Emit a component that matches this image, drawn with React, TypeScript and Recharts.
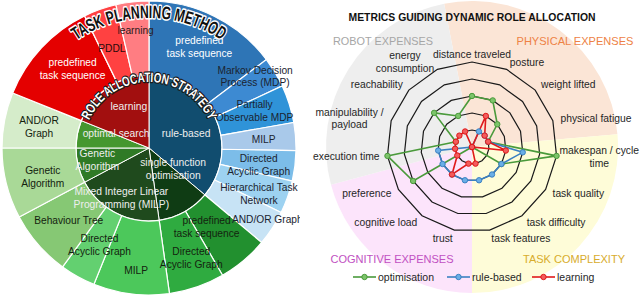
import React from 'react'
import {
  PieChart,
  Pie,
  Cell,
  RadarChart,
  Radar,
  PolarGrid,
  PolarAngleAxis,
  PolarRadiusAxis,
} from 'recharts'

const RAD = Math.PI / 180
const FONT = '"Liberation Sans", Arial, sans-serif'

// ---- left: role allocation strategy (inner ring) / task planning method (outer ring)
const strategies = [
  'rule-based',
  'single function\noptimisation',
  'Mixed Integer Linear\nProgramming (MILP)',
  'Genetic\nAlgorithm',
  'optimal search',
  'learning',
]

const methods = [
  'predefined\ntask sequence',
  'Markov Decision\nProcess (MDP)',
  'Partially\nObservable MDP',
  'MILP',
  'Directed\nAcyclic Graph',
  'Hierarchical Task\nNetwork',
  'AND/OR Graph',
  'predefined\ntask sequence',
  'Directed\nAcyclic Graph',
  'MILP',
  'Directed\nAcyclic Graph',
  'Behaviour Tree',
  'Genetic\nAlgorithm',
  'AND/OR\nGraph',
  'predefined\ntask sequence',
  'PDDL',
  'learning',
]
// angular share of each method (degrees of the circle)
const methodShare = [53, 12, 15, 11, 12, 13, 14, 20, 22, 30, 14, 26, 28, 22, 42, 13, 13]
// which strategy each method belongs to
const methodStrategy = [0, 0, 0, 0, 0, 0, 0, 1, 1, 2, 2, 2, 3, 4, 5, 5, 5]

const strategyColors = ['#114d6f', '#0f3c14', '#1f4a1d', '#2f7a26', '#45972f', '#a20f0f']
const methodColors = [
  '#2e75b6', '#3d8ad2', '#2f93d8', '#a9c9ea', '#7cbde9', '#9dd2f1', '#c7e3f5',
  '#22902f', '#2fab40',
  '#4cc85b', '#63d070', '#86c874',
  '#a9d997',
  '#d5ecca',
  '#e40000', '#ff4141', '#ff7d82',
]
const methodInk = [
  '#ffffff', '#1b2430', '#1b2430', '#1b2430', '#1b2430', '#1b2430', '#1b2430',
  '#14230f', '#14230f', '#14230f', '#14230f', '#14230f', '#14230f', '#14230f',
  '#ffffff', '#2a0a0a', '#2a1a1a',
]
// label placement inside the rings: radius and a small clockwise nudge (deg)
const methodLabelR = [113, 128, 112, 115, 111, 119, 138, 98, 118, 123, 109, 108, 110, 112, 110, 106, 118]
const methodLabelNudge = [0, -3, -2, 0, 2, 3, -2, 4, -2, -1, -2, -1, -1, 0, 3, -1, 0]
const strategyLabelR = [40, 32, 57, 53, 36, 46]
const strategyLabelNudge = [3, -20, 2, 1, 13, 8]

// ---- right: metrics guiding dynamic role allocation
const metrics = [
  'distance traveled',
  'posture',
  'weight lifted',
  'physical fatigue',
  'makespan / cycle\ntime',
  'task quality',
  'task difficulty',
  'task features',
  'trust',
  'cognitive load',
  'preference',
  'execution time',
  'manipulability /\npayload',
  'reachability',
  'energy\nconsumption',
]
const optimisation = [3, 3, 2, 1, 5, 2, 0, 0, 0, 0, 4, 5, 1, 3, 2]
const ruleBased = [0, 1, 1, 1, 3, 2, 2, 2, 2, 2, 2, 2, 0, 0, 0]
const learning = [0, 2, 1, 1, 2, 0, 0, 1, 1, 2, 1, 1, 1, 1, 1]

const expenseGroups = ['PHYSICAL EXPENSES', 'TASK COMPLEXITY', 'COGNITIVE EXPENSES', 'ROBOT EXPENSES']
const expenseSpan = [96, 95, 75, 94]
const expenseFill = ['#fbe5d6', '#fefcd8', '#fce4fb', '#eeeeee']

const series = [
  { key: 'optimisation', color: '#4a9a3b', dot: '#7cc46a' },
  { key: 'rule-based', color: '#3a80c2', dot: '#6aaee6' },
  { key: 'learning', color: '#e0191b', dot: '#f25c5c' },
]

const methodData = methods.map((name, i) => ({ name, value: methodShare[i] }))
const strategyData = strategies.map((name, k) => ({
  name,
  value: methodShare.reduce((s, v, i) => (methodStrategy[i] === k ? s + v : s), 0),
}))
const expenseData = expenseGroups.map((name, i) => ({ name, value: expenseSpan[i] }))
const radarData = metrics.map((metric, i) => ({
  metric,
  optimisation: optimisation[i],
  'rule-based': ruleBased[i],
  learning: learning[i],
}))

let ctx: CanvasRenderingContext2D | null = null
function textWidth(s: string, size: number) {
  if (!ctx) ctx = document.createElement('canvas').getContext('2d')
  if (!ctx) return s.length * size * 0.5
  ctx.font = `${size}px ${FONT}`
  return ctx.measureText(s).width
}

function sliceLabel(radii: number[], nudge: number[], size: number, ink: (i: number) => string) {
  return (props: any) => {
    const { cx, cy, midAngle, index } = props
    const name = props.name ?? props.payload?.name ?? ''
    const a = (midAngle - nudge[index]) * RAD
    const r = radii[index]
    const x = cx + r * Math.cos(-a)
    const y = cy + r * Math.sin(-a)
    const lines = String(name).split('\n')
    const lh = size * 1.27
    return (
      <text textAnchor="middle" fontSize={size} fontFamily={FONT} fill={ink(index)}>
        {lines.map((l, j) => (
          <tspan key={j} x={x} y={y + (j - (lines.length - 1) / 2) * lh + size * 0.35}>
            {l}
          </tspan>
        ))}
      </text>
    )
  }
}

const MetricTick = (props: any) => {
  const { x, y, payload, textAnchor } = props
  const size = 10.3
  const lines = String(payload.value).split('\n')
  const lh = 12.5
  let ax = x
  let anchor = textAnchor
  if (lines.length > 1) {
    const w = Math.max(...lines.map((l) => textWidth(l, size)))
    anchor = 'middle'
    if (textAnchor === 'start') ax = Math.min(x + w / 2, 639 - w / 2)
    else if (textAnchor === 'end') ax = x - w / 2
  }
  return (
    <text textAnchor={anchor} fontSize={size} fontFamily={FONT} fill="#262626">
      {lines.map((l, j) => (
        <tspan key={j} x={ax} y={y + (j - (lines.length - 1) / 2) * lh + size * 0.35}>
          {l}
        </tspan>
      ))}
    </text>
  )
}

function arcPath(cx: number, cy: number, r: number, a0: number, a1: number) {
  const p = (a: number) => [cx + r * Math.sin(a * RAD), cy - r * Math.cos(a * RAD)]
  const [x0, y0] = p(a0)
  const [x1, y1] = p(a1)
  return `M${x0},${y0} A${r},${r} 0 0 1 ${x1},${y1}`
}

const layer: React.CSSProperties = { position: 'absolute', left: 0, top: 0 }

export default function App() {
  return (
    <div style={{ ...layer, width: 640, height: 295, background: '#fff', overflow: 'hidden' }}>
      <div style={{ ...layer, width: 300, height: 295, overflow: 'hidden' }}>
        <PieChart width={300} height={295} margin={{ top: 0, right: 0, bottom: 0, left: 0 }}>
          <Pie
            data={strategyData}
            dataKey="value"
            nameKey="name"
            cx={149}
            cy={148}
            innerRadius={0}
            outerRadius={73}
            startAngle={90}
            endAngle={-270}
            stroke="#ffffff"
            strokeWidth={1}
            labelLine={false}
            label={sliceLabel(strategyLabelR, strategyLabelNudge, 10.3, () => '#eeeeee')}
            isAnimationActive={false}
          >
            {strategyData.map((d, i) => (
              <Cell key={i} fill={strategyColors[i]} />
            ))}
          </Pie>
          <Pie
            data={methodData}
            dataKey="value"
            nameKey="name"
            cx={149}
            cy={148}
            innerRadius={73}
            outerRadius={147}
            startAngle={90}
            endAngle={-270}
            stroke="#ffffff"
            strokeWidth={1.2}
            labelLine={false}
            label={sliceLabel(methodLabelR, methodLabelNudge, 10.2, (i) => methodInk[i])}
            isAnimationActive={false}
          >
            {methodData.map((d, i) => (
              <Cell key={i} fill={methodColors[i]} />
            ))}
          </Pie>
        </PieChart>
      </div>

      <div style={layer}>
        <PieChart width={640} height={295} margin={{ top: 0, right: 0, bottom: 0, left: 0 }}>
          <Pie
            data={expenseData}
            dataKey="value"
            nameKey="name"
            cx={472}
            cy={147}
            innerRadius={0}
            outerRadius={146}
            startAngle={101}
            endAngle={-259}
            stroke="none"
            isAnimationActive={false}
          >
            {expenseData.map((d, i) => (
              <Cell key={i} fill={expenseFill[i]} />
            ))}
          </Pie>
        </PieChart>
      </div>

      <div style={layer}>
        <RadarChart
          width={640}
          height={295}
          data={radarData}
          cx={472}
          cy={147}
          outerRadius={85}
          margin={{ top: 0, right: 0, bottom: 0, left: 0 }}
        >
          <PolarGrid gridType="polygon" radialLines={false} stroke="#1a1a1a" strokeWidth={1.2} />
          <PolarRadiusAxis domain={[0, 5]} tickCount={6} tick={false} axisLine={false} />
          <PolarAngleAxis dataKey="metric" tick={MetricTick} tickLine={false} axisLine={false} />
          {series.map((s) => (
            <Radar
              key={s.key}
              name={s.key}
              dataKey={s.key}
              stroke={s.color}
              strokeWidth={1.6}
              fill="none"
              fillOpacity={0}
              dot={{ r: 2.7, fill: s.dot, stroke: s.color, strokeWidth: 1, fillOpacity: 1 }}
              isAnimationActive={false}
            />
          ))}
        </RadarChart>
      </div>

      <svg style={{ ...layer, pointerEvents: 'none' }} width={640} height={295}>
        <defs>
          <path id="tpm" d={arcPath(149, 148, 130, -75, 75)} />
          <path id="ras" d={arcPath(149, 148, 66, -85, 85)} />
        </defs>
        <text
          fontFamily={FONT}
          fontWeight="bold"
          fontSize={18}
          fill="#111"
          stroke="#fff"
          strokeWidth={3}
          paintOrder="stroke"
          strokeLinejoin="round"
        >
          <textPath href="#tpm" startOffset="50%" textAnchor="middle" textLength={154} lengthAdjust="spacingAndGlyphs">
            TASK PLANNING METHOD
          </textPath>
        </text>
        <text
          fontFamily={FONT}
          fontWeight="bold"
          fontSize={13.5}
          fill="#fff"
          stroke="#1a1a1a"
          strokeWidth={2.5}
          paintOrder="stroke"
          strokeLinejoin="round"
        >
          <textPath href="#ras" startOffset="50%" textAnchor="middle" textLength={150} lengthAdjust="spacingAndGlyphs">
            ROLE ALLOCATION STRATEGY
          </textPath>
        </text>

        <text x={472} y={21} textAnchor="middle" fontFamily={FONT} fontWeight="bold" fontSize={10.5} fill="#111" textLength={247} lengthAdjust="spacingAndGlyphs">
          METRICS GUIDING DYNAMIC ROLE ALLOCATION
        </text>
        <text x={383} y={44.5} textAnchor="middle" fontFamily={FONT} fontSize={11.5} fill="#a6a6a6" textLength={100} lengthAdjust="spacingAndGlyphs">
          ROBOT EXPENSES
        </text>
        <text x={575} y={44.5} textAnchor="middle" fontFamily={FONT} fontSize={11.5} fill="#ee8245" textLength={117} lengthAdjust="spacingAndGlyphs">
          PHYSICAL EXPENSES
        </text>
        <text x={392} y={262.5} textAnchor="middle" fontFamily={FONT} fontSize={11.5} fill="#c150c2" textLength={123} lengthAdjust="spacingAndGlyphs">
          COGNITIVE EXPENSES
        </text>
        <text x={574} y={262.5} textAnchor="middle" fontFamily={FONT} fontSize={11.5} fill="#d8ac2c" textLength={102} lengthAdjust="spacingAndGlyphs">
          TASK COMPLEXITY
        </text>

        {series.map((s, i) => {
          const x0 = [353, 447, 532][i]
          return (
            <g key={s.key}>
              <line x1={x0} x2={x0 + 23} y1={277} y2={277} stroke={s.color} strokeWidth={1.6} />
              <circle cx={x0 + 11.5} cy={277} r={2.7} fill={s.dot} stroke={s.color} strokeWidth={1} />
              <text x={x0 + 25} y={280.5} fontFamily={FONT} fontSize={10.5} fill="#262626">
                {s.key}
              </text>
            </g>
          )
        })}
      </svg>
    </div>
  )
}
